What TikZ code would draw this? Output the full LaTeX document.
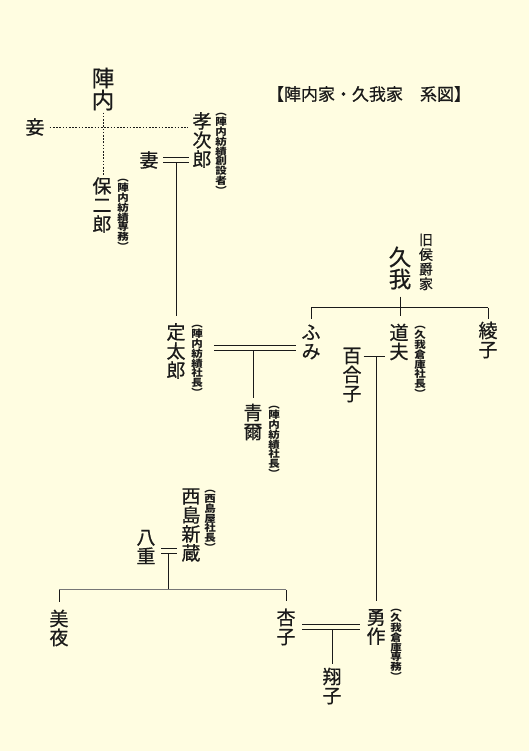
\documentclass[tikz,border=0pt]{standalone}
\usepackage{fontspec}
\setmainfont{Noto Sans CJK JP}
\newfontfamily\namefont{Noto Sans CJK JP}[FakeBold=0.6]
\newfontfamily\memofont{Noto Sans CJK JP}[FakeStretch=1.15]
\setlength{\lineskiplimit}{-20pt}
\definecolor{paper}{HTML}{FFFDE1}
\definecolor{ink}{HTML}{1A1A1A}

\begin{document}
\begin{tikzpicture}[x=1pt, y=-1pt,
      every node/.style = {inner sep=2pt, align=center, text=ink},
      person/.style = {font=\namefont\fontsize{19}{19}\selectfont},
      elder/.style = {font=\namefont\fontsize{22.5}{22}\selectfont},
      memo/.style = {font=\memofont\bfseries\fontsize{10}{9.8}\selectfont},
      tie/.style = {draw=ink, line width=0.8pt},
      kin/.style = {draw=ink, line width=0.8pt, dash pattern=on 1.6pt off 1.6pt},
      wed/.style = {draw=ink, double=paper, double distance=3.4pt, line width=0.9pt}]
    \fill[paper] (0,0) rectangle (529,751);

    \node[font=\namefont\fontsize{17}{17}\selectfont] (title) at (369,94) {【陣内家・久我家　系図】};

    \node[elder] (jinnai) at (103,89) {陣\\内};
    \node[person] (mekake) at (35,127) {妾};
    \node[person] (kojiro) at (202,140) {孝\\次\\郎};
    \node[memo] (kojiro-memo) at (221,154) {︵\\陣\\内\\紡\\績\\創\\設\\者\\︶};
    \node[person] (tsuma) at (149,160) {妻};
    \node[person] (yasujiro) at (102,205) {保\\二\\郎};
    \node[memo] (yasujiro-memo) at (123,215) {︵\\陣\\内\\紡\\績\\専\\務\\︶};
    \node[person] (sadataro) at (176,351) {定\\太\\郎};
    \node[memo] (sadataro-memo) at (197,361) {︵\\陣\\内\\紡\\績\\社\\長\\︶};
    \node[person] (fumi) at (311,342) {ふ\\み};
    \node[person] (seiji) at (253,422) {青\\爾};
    \node[memo] (seiji-memo) at (274,442) {︵\\陣\\内\\紡\\績\\社\\長\\︶};

    \node[elder] (kuga) at (400,268) {久\\我};
    \node[font=\namefont\fontsize{14}{14.7}\selectfont] (kuga-memo) at (426,262) {旧\\侯\\爵\\家};
    \node[person] (michio) at (399,342) {道\\夫};
    \node[memo] (michio-memo) at (420,362) {︵\\久\\我\\倉\\庫\\社\\長\\︶};
    \node[person] (ayako) at (488,340) {綾\\子};
    \node[person] (yuriko) at (352,375) {百\\合\\子};

    \node[person] (nishijima) at (191,525) {西\\島\\新\\蔵};
    \node[memo] (nishijima-memo) at (210,521) {︵\\西\\島\\屋\\社\\長\\︶};
    \node[person] (yae) at (146,547) {八\\重};
    \node[person] (miya) at (59,628) {美\\夜};
    \node[person] (kyoko) at (286,627) {杏\\子};
    \node[person] (yusaku) at (376,627) {勇\\作};
    \node[memo] (yusaku-memo) at (396,645) {︵\\久\\我\\倉\\庫\\専\\務\\︶};
    \node[person] (shoko) at (332,686) {翔\\子};

    \coordinate (sf) at ([yshift=3pt]sadataro.east);
    \coordinate (bus) at ([yshift=14pt]michio.north);
    \coordinate (ym) at ([yshift=-10.5pt]yuriko.north east);
    \coordinate (yn) at ([yshift=-4pt]yae.east);
    \coordinate (bus2) at ([yshift=18pt]miya.north);
    \path (yn) -- coordinate[pos=0.5] (yn-mid) (yn -| nishijima.west);

    \draw[kin, shorten <=3pt, shorten >=2pt] (mekake.east) -- (mekake.east -| kojiro.west);
    \draw[kin] (jinnai.south) -- (jinnai.south |- yasujiro.north);
    \draw[tie, shorten >=5pt] (sadataro |- tsuma.east) -- (sadataro.north);
    \draw[tie, shorten >=4pt] (sf -| seiji) -- (seiji.north);

    \draw[tie] (bus -| fumi) -- (bus -| ayako);
    \draw[tie, shorten >=3pt] (bus -| fumi) -- (fumi.north);
    \draw[tie, shorten >=1pt] (bus -| ayako) -- (ayako.north);
    \draw[tie, shorten <=5pt, shorten >=6pt] (kuga.south) -- (kuga.south |- michio.north);
    \draw[tie, shorten >=2.5pt] (ym) -- (ym -| michio.west);
    \draw[tie, shorten >=6pt] (ym -| yusaku) -- (yusaku.north);

    \draw[tie] (yn-mid) -- (yn-mid |- bus2);
    \draw[tie, draw=ink!60] (bus2 -| miya) -- (bus2 -| kyoko);
    \draw[tie, shorten >=6pt] (bus2 -| miya) -- (miya.north);
    \draw[tie, shorten >=6pt] (bus2 -| kyoko) -- (kyoko.north);
    \draw[tie, shorten >=2pt] (shoko |- kyoko.east) -- (shoko.north);

    \draw[wed, shorten <=2.5pt, shorten >=1.5pt] (tsuma.east) -- (tsuma.east -| kojiro.west);
    \draw[wed, shorten <=9pt, shorten >=3.5pt] (sadataro-memo.east |- sf) -- (sf -| fumi.west);
    \draw[wed, shorten <=3.5pt, shorten >=2.5pt] (yn) -- (yn -| nishijima.west);
    \draw[wed, shorten <=4.5pt, shorten >=4.5pt] (kyoko.east) -- (kyoko.east -| yusaku.west);
\end{tikzpicture}
\end{document}
